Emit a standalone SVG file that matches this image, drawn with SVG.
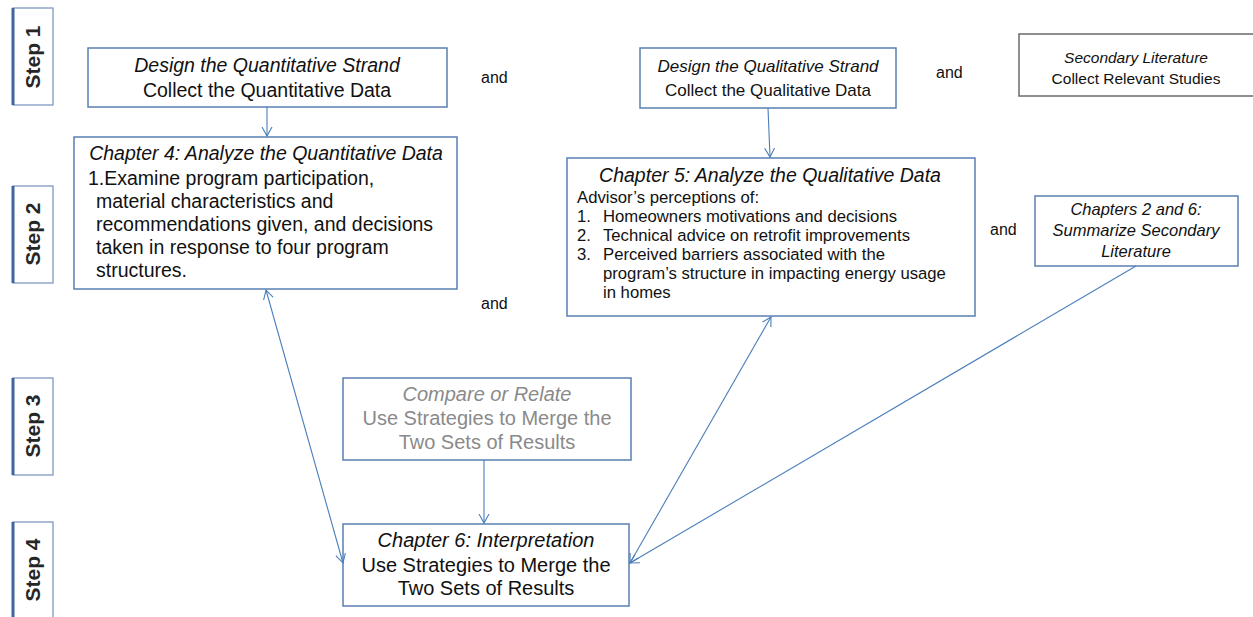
<svg xmlns="http://www.w3.org/2000/svg" width="1253" height="617" viewBox="0 0 1253 617">
  <style>
    text { font-family: "Liberation Sans", Arial, sans-serif; fill: #111; }
    .box { fill: #fff; stroke: #5b7fb3; stroke-width: 1.5; }
    .gbox { fill: #fff; stroke: #6b6b6b; stroke-width: 1.5; }
    .step-frame { fill: #fff; stroke: #7f98c0; stroke-width: 1.3; }
    .step-edge { stroke: #41649a; stroke-width: 3; }
    .step { font-size: 21px; font-weight: bold; fill: #262626; }
    .it { font-style: italic; }
    .c { text-anchor: middle; }
    .and { font-size: 16px; }
    .grey { fill: #8a8a8a; }
    .link { stroke: #4a7ebb; stroke-width: 1.1; fill: none; }
  </style>
  <defs>
    <marker id="arr" markerUnits="userSpaceOnUse" markerWidth="12" markerHeight="12" refX="9" refY="5" orient="auto-start-reverse" viewBox="0 0 12 10">
      <path d="M0,0 L9,5 L0,10" fill="none" stroke="#4a7ebb" stroke-width="1.1"/>
    </marker>
  </defs>

  <rect width="1253" height="617" fill="#fff"/>

  <!-- step labels -->
  <g id="step1">
    <rect class="step-frame" x="13" y="8" width="40" height="97"/>
    <line class="step-edge" x1="13" y1="8" x2="13" y2="105"/>
    <text class="step c" transform="translate(40,57) rotate(-90)">Step 1</text>
  </g>
  <g id="step2">
    <rect class="step-frame" x="13" y="186" width="40" height="97"/>
    <line class="step-edge" x1="13" y1="186" x2="13" y2="283"/>
    <text class="step c" transform="translate(40,234) rotate(-90)">Step 2</text>
  </g>
  <g id="step3">
    <rect class="step-frame" x="13" y="378" width="40" height="97"/>
    <line class="step-edge" x1="13" y1="378" x2="13" y2="475"/>
    <text class="step c" transform="translate(40,426) rotate(-90)">Step 3</text>
  </g>
  <g id="step4">
    <rect class="step-frame" x="13" y="522" width="40" height="100"/>
    <line class="step-edge" x1="13" y1="522" x2="13" y2="622"/>
    <text class="step c" transform="translate(40,570) rotate(-90)">Step 4</text>
  </g>

  <!-- step 1 boxes -->
  <g id="quant-strand">
    <rect class="box" x="88" y="48" width="359" height="59"/>
    <text class="c it" x="267" y="72" font-size="19.5">Design the Quantitative Strand</text>
    <text class="c" x="267" y="97" font-size="19.5">Collect the Quantitative Data</text>
  </g>
  <g id="qual-strand">
    <rect class="box" x="640" y="48" width="256" height="60"/>
    <text class="c it" x="768" y="72" font-size="17">Design the Qualitative Strand</text>
    <text class="c" x="768" y="96" font-size="17">Collect the Qualitative Data</text>
  </g>
  <g id="secondary-lit">
    <rect class="gbox" x="1019" y="34" width="240" height="62"/>
    <text class="c it" x="1136" y="63" font-size="15.5">Secondary Literature</text>
    <text class="c" x="1136" y="84" font-size="15.5">Collect Relevant Studies</text>
  </g>

  <!-- step 2 boxes -->
  <g id="chapter4">
    <rect class="box" x="74" y="137" width="383" height="152"/>
    <text class="c it" x="266" y="160" font-size="19.5">Chapter 4: Analyze the Quantitative Data</text>
    <g font-size="19.5">
      <text x="88" y="185">1.Examine program participation,</text>
      <text x="96" y="208">material characteristics and</text>
      <text x="96" y="231">recommendations given, and decisions</text>
      <text x="96" y="254">taken in response to four program</text>
      <text x="96" y="277">structures.</text>
    </g>
  </g>
  <g id="chapter5">
    <rect class="box" x="567" y="158" width="408" height="158"/>
    <text class="c it" x="770" y="182" font-size="19.5">Chapter 5: Analyze the Qualitative Data</text>
    <g font-size="16.7">
      <text x="577" y="203">Advisor’s perceptions of:</text>
      <text x="577" y="222">1.</text>
      <text x="603" y="222">Homeowners motivations and decisions</text>
      <text x="577" y="241">2.</text>
      <text x="603" y="241">Technical advice on retrofit improvements</text>
      <text x="577" y="260">3.</text>
      <text x="603" y="260">Perceived barriers associated with the</text>
      <text x="603" y="279">program’s structure in impacting energy usage</text>
      <text x="603" y="298">in homes</text>
    </g>
  </g>
  <g id="chapters-2-6">
    <rect class="box" x="1035" y="196" width="203" height="70"/>
    <g class="it" font-size="16.5">
      <text class="c" x="1136" y="215">Chapters 2 and 6:</text>
      <text class="c" x="1136" y="236">Summarize  Secondary</text>
      <text class="c" x="1136" y="257">Literature</text>
    </g>
  </g>

  <!-- step 3 -->
  <g id="compare">
    <rect class="box" x="343" y="378" width="288" height="82"/>
    <text class="c it grey" x="487" y="401" font-size="20">Compare or Relate</text>
    <text class="c grey" x="487" y="425" font-size="20">Use Strategies to Merge the</text>
    <text class="c grey" x="487" y="449" font-size="20">Two Sets of Results</text>
  </g>

  <!-- step 4 -->
  <g id="chapter6">
    <rect class="box" x="343" y="524" width="286" height="82"/>
    <text class="c it" x="486" y="547" font-size="20">Chapter 6: Interpretation</text>
    <text class="c" x="486" y="572" font-size="20">Use Strategies to Merge the</text>
    <text class="c" x="486" y="595" font-size="20">Two Sets of Results</text>
  </g>

  <!-- "and" labels -->
  <g id="and-labels">
    <text class="and" x="481" y="83">and</text>
    <text class="and" x="936" y="78">and</text>
    <text class="and" x="990" y="235">and</text>
    <text class="and" x="481" y="309">and</text>
  </g>

  <!-- connectors -->
  <g id="connectors">
    <line class="link" x1="267" y1="107" x2="267" y2="136" marker-end="url(#arr)"/>
    <line class="link" x1="768" y1="108" x2="770" y2="157" marker-end="url(#arr)"/>
    <line class="link" x1="266" y1="290" x2="343" y2="563" marker-start="url(#arr)" marker-end="url(#arr)"/>
    <line class="link" x1="771" y1="317" x2="630" y2="563" marker-start="url(#arr)" marker-end="url(#arr)"/>
    <line class="link" x1="1136" y1="266" x2="630" y2="563" marker-end="url(#arr)"/>
    <line class="link" x1="484" y1="460" x2="484" y2="523" marker-end="url(#arr)"/>
  </g>
</svg>
